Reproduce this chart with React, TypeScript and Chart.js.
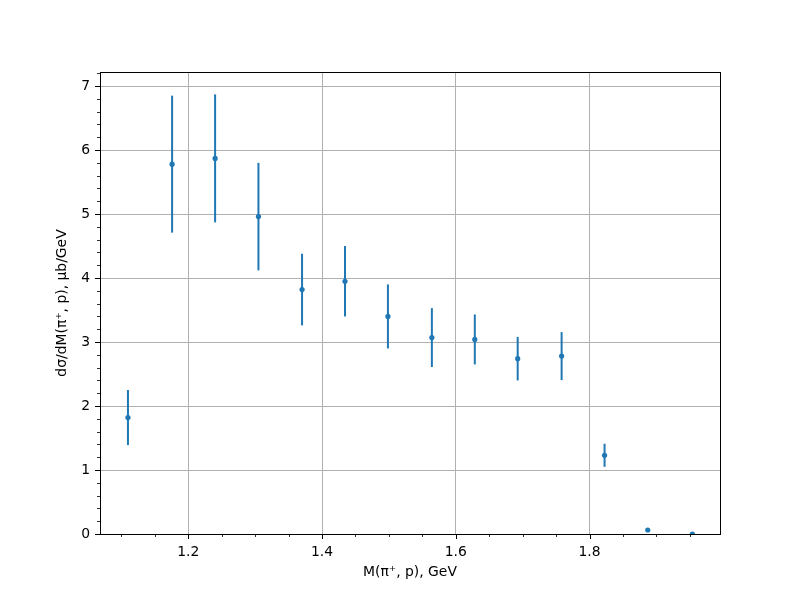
import React, { useEffect, useRef } from "react";
import { Chart, registerables } from "chart.js";

Chart.register(...registerables);

const massValues = [1.1098, 1.1758, 1.2401, 1.3049, 1.3701, 1.4343, 1.4985, 1.5642, 1.6284, 1.6925, 1.7582, 1.8224, 1.887, 1.9537];
const crossSection = [1.82, 5.78, 5.87, 4.96, 3.82, 3.95, 3.40, 3.07, 3.04, 2.74, 2.78, 1.23, 0.0625, 0.0];
const crossSectionErr = [0.43, 1.07, 1.0, 0.84, 0.56, 0.55, 0.50, 0.46, 0.39, 0.34, 0.375, 0.18, 0.0, 0.0];
const xMajorTicks = [1.2, 1.4, 1.6, 1.8];
const xMinorTicks = [1.1, 1.15, 1.25, 1.3, 1.35, 1.45, 1.5, 1.55, 1.65, 1.7, 1.75, 1.85, 1.9, 1.95];
const yMajorTicks = [0, 1, 2, 3, 4, 5, 6, 7];
const yMinorTicks = [0.2, 0.4, 0.6, 0.8, 1.2, 1.4, 1.6, 1.8, 2.2, 2.4, 2.6, 2.8, 3.2, 3.4, 3.6, 3.8, 4.2, 4.4, 4.6, 4.8, 5.2, 5.4, 5.6, 5.8, 6.2, 6.4, 6.6, 6.8, 7.2];
const xTitle = "M(π⁺, p), GeV";
const yTitle = "dσ/dM(π⁺, p), μb/GeV";

const BLUE = "#1f77b4";
const FONT = "'DejaVu Sans', sans-serif";

const errorBarPlugin = {
  id: "errorBars",
  beforeDatasetsDraw(chart: any) {
    const { ctx, scales } = chart;
    const xs = scales.x;
    const ys = scales.y;
    ctx.save();
    ctx.strokeStyle = BLUE;
    ctx.lineWidth = 2;
    for (let i = 0; i < massValues.length; i++) {
      const e = crossSectionErr[i];
      if (!e) continue;
      const px = xs.getPixelForValue(massValues[i]);
      const top = ys.getPixelForValue(crossSection[i] + e);
      const bot = ys.getPixelForValue(crossSection[i] - e);
      ctx.beginPath();
      ctx.moveTo(px, top);
      ctx.lineTo(px, bot);
      ctx.stroke();
    }
    ctx.restore();
  },
};

const framePlugin = {
  id: "frameTicks",
  afterDatasetsDraw(chart: any) {
    const { ctx, chartArea, scales } = chart;
    const { left, right, top, bottom } = chartArea;
    ctx.save();
    ctx.strokeStyle = "#000";
    // ticks
    const drawX = (vals: number[], len: number, w: number) => {
      ctx.lineWidth = w;
      for (const v of vals) {
        const px = Math.round(scales.x.getPixelForValue(v)) + 0.5;
        ctx.beginPath();
        ctx.moveTo(px, bottom);
        ctx.lineTo(px, bottom + len);
        ctx.stroke();
      }
    };
    const drawY = (vals: number[], len: number, w: number) => {
      ctx.lineWidth = w;
      for (const v of vals) {
        const py = Math.round(scales.y.getPixelForValue(v)) + 0.5;
        ctx.beginPath();
        ctx.moveTo(left, py);
        ctx.lineTo(left - len, py);
        ctx.stroke();
      }
    };
    drawX(xMajorTicks, 5, 1);
    drawX(xMinorTicks, 3, 0.8);
    drawY(yMajorTicks, 5, 1);
    drawY(yMinorTicks, 3, 0.8);
    ctx.lineWidth = 1;
    ctx.strokeRect(left + 0.5, top + 0.5, right - left, bottom - top);
    ctx.restore();
  },
};

export default function App() {
  const ref = useRef<HTMLCanvasElement | null>(null);
  useEffect(() => {
    const canvas = ref.current;
    if (!canvas) return;
    const chart = new Chart(canvas, {
      type: "scatter",
      data: {
        datasets: [
          {
            data: massValues.map((x, i) => ({ x, y: crossSection[i] })),
            backgroundColor: BLUE,
            borderColor: BLUE,
            borderWidth: 0,
            pointRadius: 2.6,
            pointHoverRadius: 2.6,
          },
        ],
      },
      options: {
        responsive: false,
        animation: false,
        events: [],
        layout: { padding: { left: 0, top: 72, right: 80, bottom: 0 } },
        plugins: {
          legend: { display: false },
          tooltip: { enabled: false },
        },
        scales: {
          x: {
            type: "linear",
            min: 1.068,
            max: 1.995,
            afterBuildTicks: (s: any) => {
              s.ticks = xMajorTicks.map((v) => ({ value: v }));
            },
            afterFit: (s: any) => {
              s.height = 66;
            },
            border: { display: false },
            grid: { color: "#b0b0b0", lineWidth: 1, drawTicks: false },
            ticks: {
              color: "#000",
              padding: 10,
              maxRotation: 0,
              font: { family: FONT, size: 13.9 },
              callback: (v: any) => Number(v).toFixed(1),
            },
            title: {
              display: true,
              text: xTitle,
              color: "#000",
              font: { family: FONT, size: 13.9 },
              padding: { top: 0, bottom: 19 },
            },
          },
          y: {
            type: "linear",
            min: 0,
            max: 7.22,
            afterBuildTicks: (s: any) => {
              s.ticks = yMajorTicks.map((v) => ({ value: v }));
            },
            afterFit: (s: any) => {
              s.width = 100;
            },
            border: { display: false },
            grid: { color: "#b0b0b0", lineWidth: 1, drawTicks: false },
            ticks: {
              color: "#000",
              padding: 10,
              font: { family: FONT, size: 13.9 },
              callback: (v: any) => String(v),
            },
            title: {
              display: true,
              text: yTitle,
              color: "#000",
              font: { family: FONT, size: 13.9 },
              padding: { top: 54, bottom: 0 },
            },
          },
        },
      },
      plugins: [errorBarPlugin, framePlugin],
    });
    return () => chart.destroy();
  }, []);
  return (
    <div style={{ position: "fixed", left: 0, top: 0, width: 800, height: 600, background: "#fff" }}>
      <canvas ref={ref} width={800} height={600} style={{ display: "block" }} />
    </div>
  );
}
